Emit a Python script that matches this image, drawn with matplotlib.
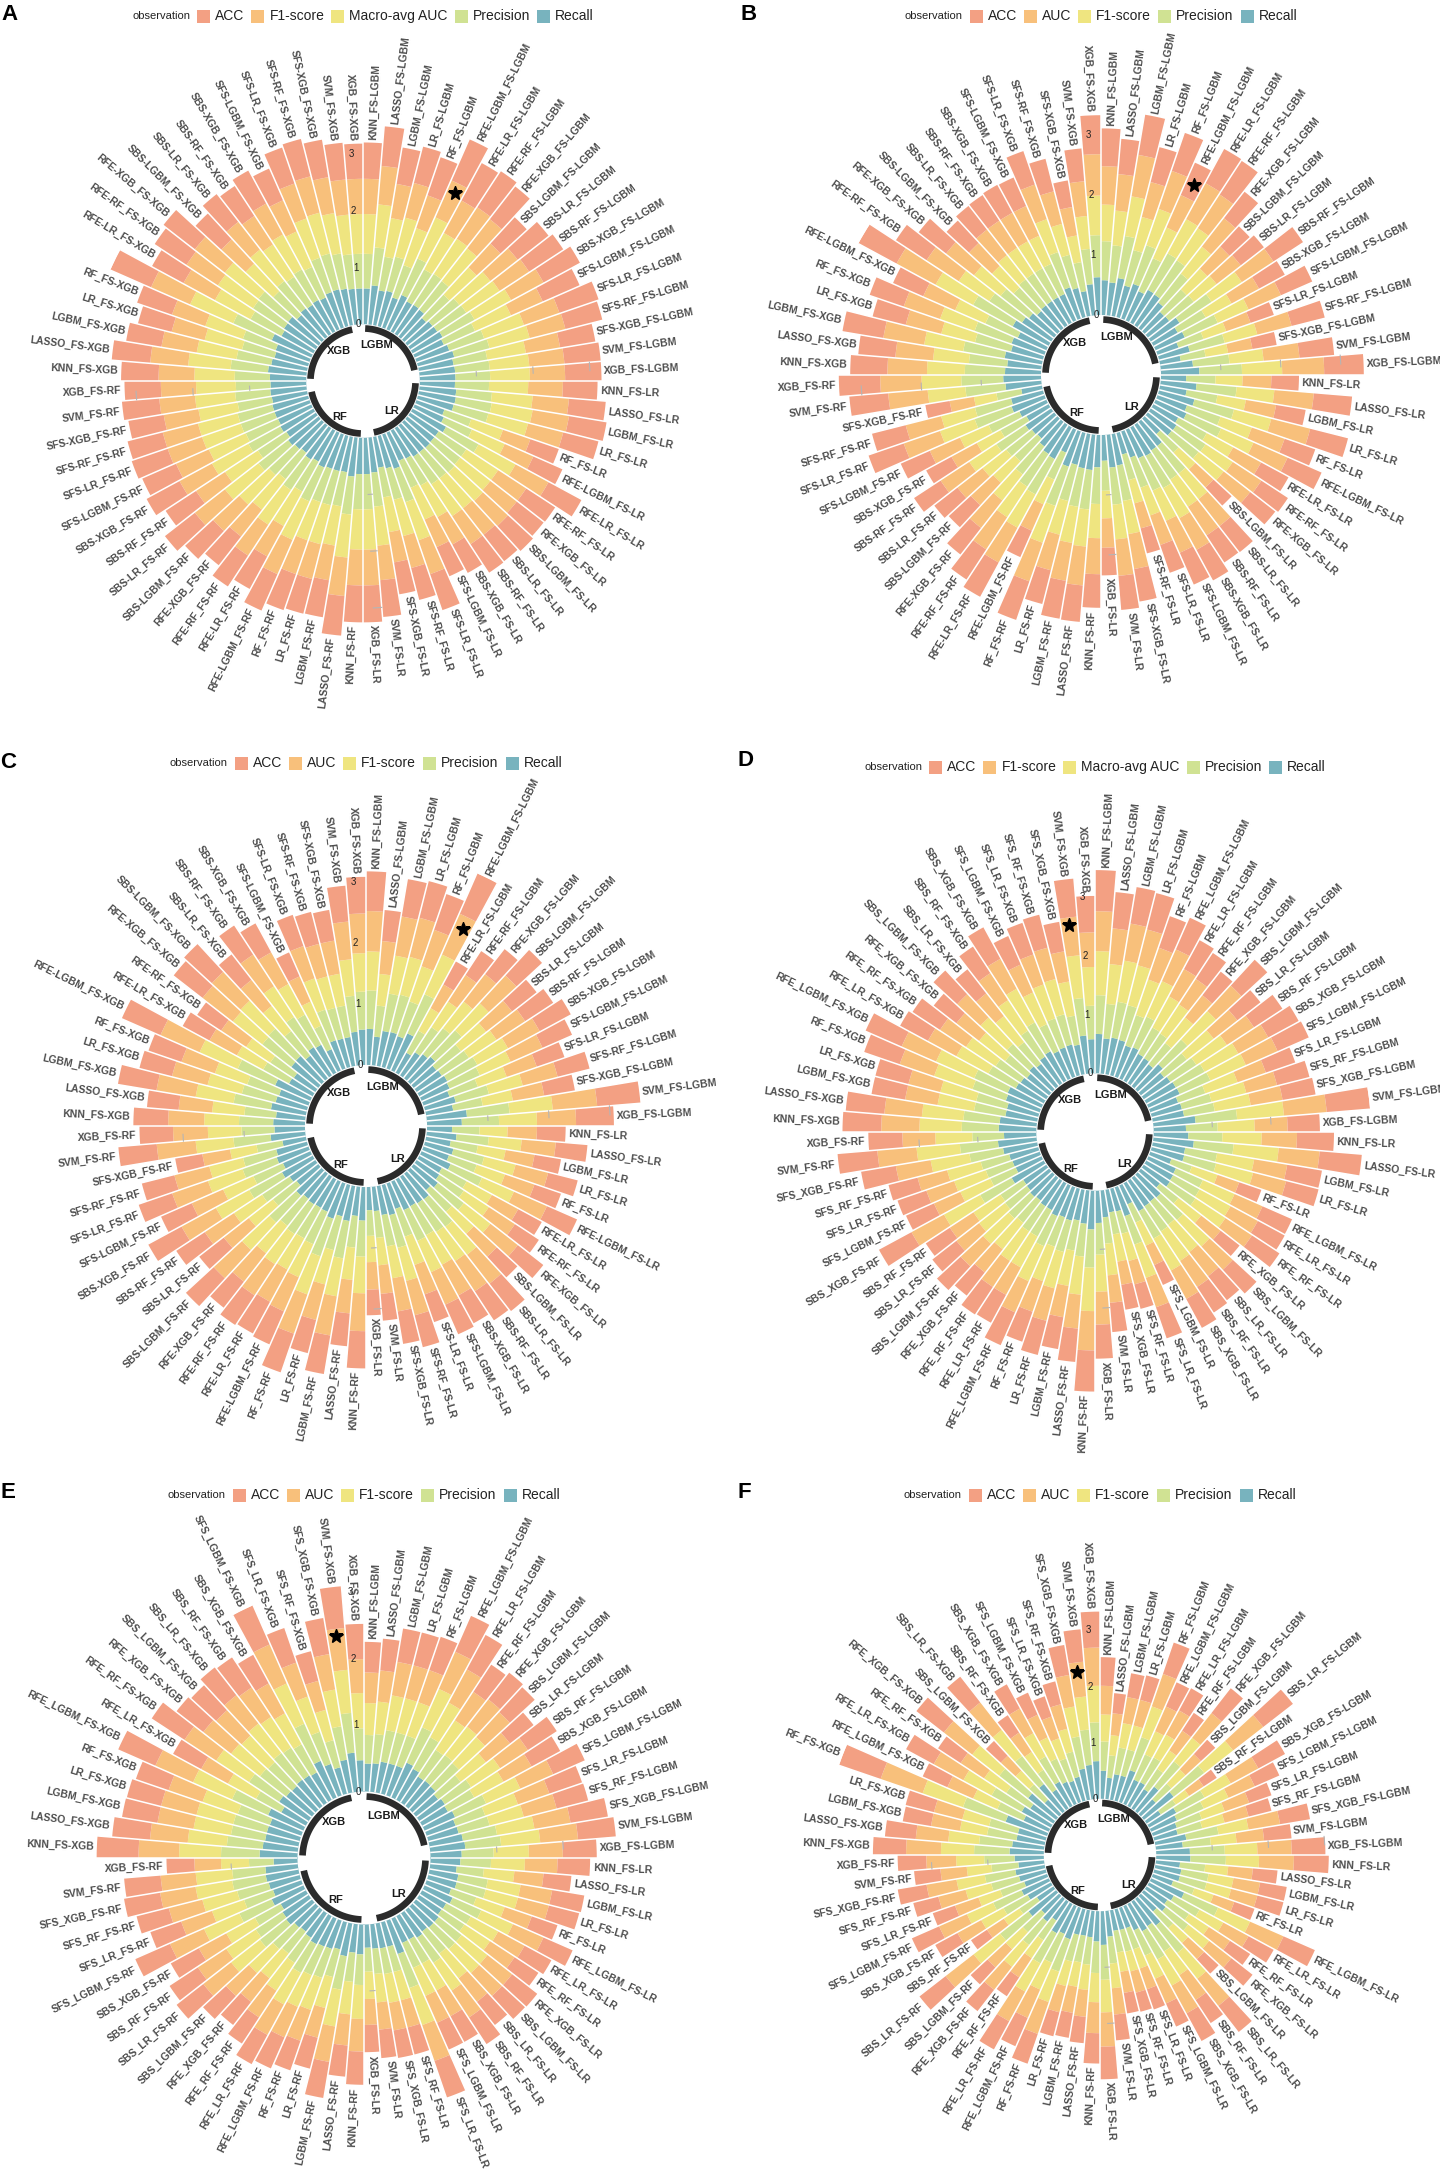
import numpy as np
import matplotlib
matplotlib.use('Agg')
import matplotlib.pyplot as plt
from matplotlib.patches import Rectangle

plt.rcParams['font.family'] = ['Liberation Sans', 'DejaVu Sans']

W_PX, H_PX = 1440, 2178

groups = ['LGBM', 'LR', 'RF', 'XGB']
methods = ['KNN', 'LASSO', 'LGBM', 'LR', 'RF', 'RFE-LGBM', 'RFE-LR', 'RFE-RF', 'RFE-XGB',
           'SBS-LGBM', 'SBS-LR', 'SBS-RF', 'SBS-XGB', 'SFS-LGBM', 'SFS-LR', 'SFS-RF',
           'SFS-XGB', 'SVM', 'XGB']

colors = ['#F3A083', '#F8C07B', '#EFE580', '#D0E293', '#78B3BE']
names_macro = ['ACC', 'F1-score', 'Macro-avg AUC', 'Precision', 'Recall']
names_auc = ['ACC', 'AUC', 'F1-score', 'Precision', 'Recall']

# ---- panel A ----
a_acc = [.64,.70,.65,.66,.71,.79,.75,.76,.73,.63,.69,.72,.73,.71,.73,.67,.63,.64,.64,
         .61,.65,.67,.64,.53,.56,.66,.61,.60,.60,.59,.60,.57,.56,.67,.58,.57,.65,.65,
         .65,.70,.66,.63,.67,.70,.65,.65,.64,.67,.67,.64,.66,.65,.67,.64,.63,.66,.64,
         .66,.68,.63,.61,.65,.78,.63,.67,.70,.62,.62,.63,.66,.61,.67,.68,.67,.65,.62]
a_f1 = [.62,.68,.61,.63,.61,.71,.65,.66,.65,.57,.61,.62,.65,.61,.66,.65,.61,.62,.62,
        .61,.64,.65,.64,.51,.55,.66,.59,.59,.60,.59,.59,.55,.53,.63,.58,.54,.61,.63,
        .63,.68,.62,.63,.63,.66,.61,.65,.60,.63,.67,.61,.65,.63,.64,.64,.62,.63,.62,
        .63,.67,.63,.60,.62,.75,.63,.66,.67,.58,.62,.60,.62,.60,.65,.66,.64,.62,.62]
a_auc = [.70,.76,.69,.71,.69,.79,.73,.74,.73,.65,.69,.70,.73,.69,.74,.73,.69,.70,.70,
         .69,.72,.73,.72,.59,.63,.74,.67,.67,.68,.67,.67,.63,.61,.71,.66,.62,.69,.71,
         .71,.76,.70,.71,.71,.74,.69,.73,.68,.71,.75,.69,.73,.71,.72,.72,.70,.71,.70,
         .71,.75,.71,.68,.70,.83,.71,.74,.75,.66,.70,.68,.70,.68,.73,.74,.72,.70,.70]
a_prec = [.61,.67,.60,.62,.60,.70,.64,.65,.64,.56,.60,.61,.64,.60,.65,.64,.60,.61,.61,
          .60,.63,.64,.63,.50,.54,.65,.58,.58,.59,.58,.58,.54,.52,.62,.57,.53,.60,.62,
          .62,.67,.61,.62,.62,.65,.60,.64,.59,.62,.66,.60,.64,.62,.63,.63,.61,.62,.61,
          .62,.66,.62,.59,.61,.74,.62,.65,.66,.57,.61,.59,.61,.59,.64,.65,.63,.61,.61]
a_recall = [.63,.69,.62,.64,.56,.66,.60,.61,.60,.52,.56,.57,.60,.56,.61,.66,.62,.63,.63,
            .62,.65,.66,.65,.52,.56,.67,.60,.60,.61,.60,.60,.56,.54,.64,.59,.55,.62,.64,
            .64,.69,.63,.64,.64,.67,.62,.66,.61,.64,.68,.62,.66,.64,.65,.65,.63,.64,.63,
            .64,.68,.64,.61,.63,.76,.64,.67,.68,.59,.63,.61,.63,.61,.66,.67,.65,.63,.63]

# ---- panel B ----
b_acc = [.63,.59,.68,.60,.67,.59,.65,.67,.56,.46,.49,.59,.49,.57,.41,.57,.41,.58,.66,
         .46,.64,.50,.65,.54,.62,.52,.53,.53,.41,.55,.54,.58,.58,.49,.43,.55,.57,.46,
         .56,.61,.64,.58,.68,.48,.65,.60,.56,.50,.49,.53,.48,.53,.62,.58,.41,.65,.69,
         .62,.62,.69,.57,.60,.55,.72,.61,.58,.51,.50,.51,.53,.52,.59,.56,.45,.55,.65]
b_auc = [.64,.61,.70,.60,.67,.59,.68,.67,.60,.50,.51,.63,.52,.59,.43,.59,.41,.60,.70,
         .48,.66,.51,.67,.58,.62,.53,.57,.56,.41,.57,.57,.60,.58,.52,.43,.59,.61,.49,
         .60,.65,.64,.61,.68,.48,.66,.64,.58,.51,.53,.57,.48,.55,.64,.61,.41,.66,.69,
         .66,.63,.69,.61,.64,.58,.74,.64,.59,.52,.54,.54,.54,.54,.61,.56,.48,.58,.69]
b_f1 = [.61,.58,.67,.57,.64,.56,.65,.64,.57,.47,.48,.60,.49,.56,.40,.56,.38,.57,.67,
        .45,.63,.48,.64,.55,.59,.50,.54,.53,.38,.54,.54,.57,.55,.49,.40,.56,.58,.46,
        .57,.62,.61,.58,.65,.45,.63,.61,.55,.48,.50,.54,.45,.52,.61,.58,.38,.63,.66,
        .63,.60,.66,.58,.61,.55,.71,.61,.56,.49,.51,.51,.51,.51,.58,.53,.45,.55,.66]
b_prec = [.65,.62,.71,.61,.68,.60,.69,.68,.61,.51,.52,.64,.53,.60,.44,.60,.42,.61,.71,
          .49,.67,.52,.68,.59,.63,.54,.58,.57,.42,.58,.58,.61,.59,.53,.44,.60,.62,.50,
          .61,.66,.65,.62,.69,.49,.67,.65,.59,.52,.54,.58,.49,.56,.65,.62,.42,.67,.70,
          .67,.64,.70,.62,.65,.59,.75,.65,.60,.53,.55,.55,.55,.55,.62,.57,.49,.59,.70]
b_recall = [.58,.55,.64,.54,.61,.53,.62,.61,.54,.44,.45,.57,.46,.53,.37,.53,.35,.54,.64,
            .42,.60,.45,.61,.52,.56,.47,.51,.50,.35,.51,.51,.54,.52,.46,.37,.53,.55,.43,
            .54,.59,.58,.55,.62,.42,.60,.58,.52,.45,.47,.51,.42,.49,.58,.55,.35,.60,.63,
            .60,.57,.63,.55,.58,.52,.68,.58,.53,.46,.48,.48,.48,.48,.55,.50,.42,.52,.63]

# ---- panel C ----
c_acc = [.65,.51,.62,.62,.62,.72,.43,.47,.52,.57,.51,.55,.58,.53,.48,.54,.51,.71,.62,
         .47,.52,.44,.50,.46,.54,.44,.47,.53,.46,.57,.57,.52,.53,.48,.54,.54,.44,.42,
         .61,.54,.64,.56,.67,.59,.59,.58,.54,.62,.51,.56,.62,.55,.58,.55,.45,.63,.55,
         .57,.52,.64,.55,.57,.69,.50,.47,.60,.62,.53,.57,.54,.43,.54,.54,.51,.59,.60]
c_auc = [.66,.54,.65,.66,.63,.73,.44,.52,.57,.62,.54,.56,.59,.57,.52,.59,.52,.73,.64,
         .48,.56,.48,.55,.51,.59,.49,.51,.57,.51,.60,.59,.57,.58,.51,.58,.55,.47,.45,
         .62,.55,.65,.60,.68,.61,.60,.61,.59,.63,.52,.57,.64,.56,.62,.59,.46,.64,.57,
         .59,.55,.65,.60,.58,.70,.51,.49,.63,.64,.54,.62,.59,.45,.56,.55,.55,.62,.65]
c_f1 = [.64,.52,.63,.64,.61,.71,.42,.50,.55,.60,.52,.54,.57,.55,.50,.57,.50,.71,.62,
        .46,.54,.46,.53,.49,.57,.47,.49,.55,.49,.58,.57,.55,.56,.49,.56,.53,.45,.43,
        .60,.53,.63,.58,.66,.59,.58,.59,.57,.61,.50,.55,.62,.54,.60,.57,.44,.62,.55,
        .57,.53,.63,.58,.56,.68,.49,.47,.61,.62,.52,.60,.57,.43,.54,.53,.53,.60,.63]
c_prec = [.63,.51,.62,.63,.60,.70,.41,.49,.54,.59,.51,.53,.56,.54,.49,.56,.49,.70,.61,
          .45,.53,.45,.52,.48,.56,.46,.48,.54,.48,.57,.56,.54,.55,.48,.55,.52,.44,.42,
          .59,.52,.62,.57,.65,.58,.57,.58,.56,.60,.49,.54,.61,.53,.59,.56,.43,.61,.54,
          .56,.52,.62,.57,.55,.67,.48,.46,.60,.61,.51,.59,.56,.42,.53,.52,.52,.59,.62]
c_recall = [.59,.47,.58,.59,.56,.66,.37,.45,.50,.55,.47,.49,.52,.50,.45,.52,.45,.66,.57,
            .41,.49,.41,.48,.44,.52,.42,.44,.50,.44,.53,.52,.50,.51,.44,.51,.48,.40,.38,
            .55,.48,.58,.53,.61,.54,.53,.54,.52,.56,.45,.50,.57,.49,.55,.52,.39,.57,.50,
            .52,.48,.58,.53,.51,.63,.44,.42,.56,.57,.47,.55,.52,.38,.49,.48,.48,.55,.58]

# ---- panel D ----
d_acc = [.70,.62,.63,.64,.57,.59,.56,.53,.51,.60,.50,.58,.59,.58,.53,.57,.57,.74,.55,
         .63,.72,.60,.57,.40,.55,.52,.56,.41,.55,.52,.52,.56,.37,.56,.43,.43,.50,.58,
         .70,.57,.55,.60,.54,.61,.54,.56,.50,.55,.52,.49,.63,.52,.52,.51,.60,.68,.58,
         .66,.66,.58,.58,.64,.67,.54,.56,.49,.55,.52,.54,.61,.53,.57,.58,.51,.65,.62]
d_f1 = [.68,.61,.64,.63,.57,.59,.53,.52,.48,.59,.51,.55,.58,.59,.51,.54,.55,.73,.56,
        .60,.70,.57,.58,.39,.52,.53,.54,.42,.54,.52,.53,.55,.36,.53,.41,.40,.47,.56,
        .67,.58,.54,.57,.55,.58,.53,.53,.50,.52,.49,.48,.63,.49,.50,.52,.60,.67,.56,
        .65,.64,.56,.56,.62,.64,.55,.53,.49,.54,.49,.55,.58,.52,.54,.55,.52,.66,.59]
d_auc = [.75,.68,.71,.70,.64,.66,.60,.59,.55,.66,.58,.62,.65,.66,.58,.61,.62,.80,.63,
         .67,.77,.64,.65,.46,.59,.60,.61,.49,.61,.59,.60,.62,.43,.60,.48,.47,.54,.63,
         .74,.65,.61,.64,.62,.65,.60,.60,.57,.59,.56,.55,.70,.56,.57,.59,.67,.74,.63,
         .72,.71,.63,.63,.69,.71,.62,.60,.56,.61,.56,.62,.65,.59,.61,.62,.59,.73,.66]
d_prec = [.66,.59,.62,.61,.55,.57,.51,.50,.46,.57,.49,.53,.56,.57,.49,.52,.53,.71,.54,
          .58,.68,.55,.56,.37,.50,.51,.52,.40,.52,.50,.51,.53,.34,.51,.39,.38,.45,.54,
          .65,.56,.52,.55,.53,.56,.51,.51,.48,.50,.47,.46,.61,.47,.48,.50,.58,.65,.54,
          .63,.62,.54,.54,.60,.62,.53,.51,.47,.52,.47,.53,.56,.50,.52,.53,.50,.64,.57]
d_recall = [.67,.60,.63,.62,.56,.58,.52,.51,.47,.58,.50,.54,.57,.58,.50,.53,.54,.72,.55,
            .59,.69,.56,.57,.38,.51,.52,.53,.41,.53,.51,.52,.54,.35,.52,.40,.39,.46,.55,
            .66,.57,.53,.56,.54,.57,.52,.52,.49,.51,.48,.47,.62,.48,.49,.51,.59,.66,.55,
            .64,.63,.55,.55,.61,.63,.54,.52,.48,.53,.48,.54,.57,.51,.53,.54,.51,.65,.58]

# ---- panel E ----
e_acc = [.46,.48,.51,.51,.53,.59,.59,.49,.51,.51,.45,.52,.49,.52,.52,.49,.57,.57,.51,
         .49,.42,.49,.47,.41,.48,.46,.43,.48,.47,.44,.48,.44,.44,.58,.42,.42,.43,.41,
         .50,.47,.55,.48,.47,.51,.50,.47,.44,.47,.51,.51,.48,.57,.49,.50,.55,.55,.42,
         .63,.57,.54,.53,.52,.61,.48,.59,.51,.51,.53,.54,.49,.64,.55,.46,.55,.63,.53]
e_auc = [.46,.47,.51,.51,.51,.61,.57,.51,.52,.51,.46,.50,.48,.54,.50,.51,.55,.57,.51,
         .49,.44,.48,.48,.43,.50,.45,.44,.47,.47,.45,.48,.44,.44,.57,.42,.42,.41,.39,
         .49,.47,.54,.46,.49,.50,.52,.48,.45,.47,.53,.51,.47,.56,.49,.52,.54,.53,.40,
         .61,.57,.55,.55,.54,.62,.46,.57,.53,.52,.54,.53,.51,.64,.54,.45,.54,.63,.51]
e_f1 = [.48,.49,.53,.53,.53,.63,.59,.53,.54,.53,.48,.52,.50,.56,.52,.53,.57,.59,.53,
        .51,.46,.50,.50,.45,.52,.47,.46,.49,.49,.47,.50,.46,.46,.59,.44,.44,.43,.41,
        .51,.49,.56,.48,.51,.52,.54,.50,.47,.49,.55,.53,.49,.58,.51,.54,.56,.55,.42,
        .63,.59,.57,.57,.56,.64,.48,.59,.55,.54,.56,.55,.53,.66,.56,.47,.56,.65,.53]
e_prec = [.43,.44,.48,.48,.48,.58,.54,.48,.49,.48,.43,.47,.45,.51,.47,.48,.52,.54,.48,
          .46,.41,.45,.45,.40,.47,.42,.41,.44,.44,.42,.45,.41,.41,.54,.39,.39,.38,.36,
          .46,.44,.51,.43,.46,.47,.49,.45,.42,.44,.50,.48,.44,.53,.46,.49,.51,.50,.37,
          .58,.54,.52,.52,.51,.59,.43,.54,.50,.49,.51,.50,.48,.61,.51,.42,.51,.60,.48]
e_recall = [.42,.43,.47,.47,.47,.57,.53,.47,.48,.47,.42,.46,.44,.50,.46,.47,.51,.53,.47,
            .45,.40,.44,.44,.39,.46,.41,.40,.43,.43,.41,.44,.40,.40,.53,.38,.38,.37,.35,
            .45,.43,.50,.42,.45,.46,.48,.44,.41,.43,.49,.47,.43,.52,.45,.48,.50,.49,.36,
            .57,.53,.51,.51,.50,.58,.42,.53,.49,.48,.50,.49,.47,.60,.50,.41,.50,.59,.47]

# ---- panel F ----
f_acc = [.51,.36,.43,.45,.59,.47,.45,.38,.56,.35,.67,.28,.54,.48,.42,.42,.54,.49,.60,
         .62,.44,.48,.48,.38,.61,.51,.43,.48,.35,.59,.49,.56,.45,.38,.35,.37,.46,.58,
         .54,.47,.45,.44,.56,.55,.57,.40,.48,.41,.59,.34,.45,.53,.42,.46,.52,.47,.51,
         .59,.55,.51,.52,.78,.48,.56,.48,.62,.36,.58,.37,.49,.43,.38,.42,.54,.58,.64]
f_auc = [.51,.39,.47,.47,.61,.48,.49,.42,.56,.37,.68,.31,.56,.51,.46,.44,.57,.49,.61,
         .62,.44,.48,.48,.39,.65,.51,.45,.50,.39,.61,.53,.56,.48,.39,.39,.38,.47,.61,
         .55,.48,.47,.48,.60,.55,.60,.41,.52,.44,.63,.36,.48,.54,.44,.50,.54,.47,.53,
         .62,.58,.52,.52,.79,.50,.60,.50,.64,.36,.62,.41,.50,.44,.41,.45,.57,.62,.68]
f_f1 = [.48,.36,.44,.44,.58,.45,.46,.39,.53,.34,.65,.28,.53,.48,.43,.41,.54,.46,.58,
        .59,.41,.45,.45,.36,.62,.48,.42,.47,.36,.58,.50,.53,.45,.36,.36,.35,.44,.58,
        .52,.45,.44,.45,.57,.52,.57,.38,.49,.41,.60,.33,.45,.51,.41,.47,.51,.44,.50,
        .59,.55,.49,.49,.76,.47,.57,.47,.61,.33,.59,.38,.47,.41,.38,.42,.54,.59,.65]
f_prec = [.52,.40,.48,.48,.62,.49,.50,.43,.57,.38,.69,.32,.57,.52,.47,.45,.58,.50,.62,
          .63,.45,.49,.49,.40,.66,.52,.46,.51,.40,.62,.54,.57,.49,.40,.40,.39,.48,.62,
          .56,.49,.48,.49,.61,.56,.61,.42,.53,.45,.64,.37,.49,.55,.45,.51,.55,.48,.54,
          .63,.59,.53,.53,.80,.51,.61,.51,.65,.37,.63,.42,.51,.45,.42,.46,.58,.63,.69]
f_recall = [.50,.38,.46,.46,.60,.47,.48,.41,.55,.36,.67,.30,.55,.50,.45,.43,.56,.48,.60,
            .61,.43,.47,.47,.38,.64,.50,.44,.49,.38,.60,.52,.55,.47,.38,.38,.37,.46,.60,
            .54,.47,.46,.47,.59,.54,.59,.40,.51,.43,.62,.35,.47,.53,.43,.49,.53,.46,.52,
            .61,.57,.51,.51,.78,.49,.59,.49,.63,.35,.61,.40,.49,.43,.40,.44,.56,.61,.67]

panels = [
    dict(letter='A', names=names_macro, values=[a_acc, a_f1, a_auc, a_prec, a_recall], sep='-',
         center=(363, 381), legend_y=16, letter_xy=(1, 15), star=(5, 2.68), hidden=[62]),
    dict(letter='B', names=names_auc, values=[b_acc, b_auc, b_f1, b_prec, b_recall], sep='-',
         center=(1101, 375), legend_y=16, letter_xy=(741, 15), star=(5, 2.52), hidden=[63]),
    dict(letter='C', names=names_auc, values=[c_acc, c_auc, c_f1, c_prec, c_recall], sep='-',
         center=(366, 1126), legend_y=763, letter_xy=(0, 762), star=(5, 2.60), hidden=[]),
    dict(letter='D', names=names_macro, values=[d_acc, d_f1, d_auc, d_prec, d_recall], sep='_',
         center=(1095, 1132), legend_y=767, letter_xy=(738, 760), star=(74, 2.55), hidden=[]),
    dict(letter='E', names=names_auc, values=[e_acc, e_auc, e_f1, e_prec, e_recall], sep='_',
         center=(364, 1858), legend_y=1495, letter_xy=(0, 1493), star=(74, 2.36), hidden=[]),
    dict(letter='F', names=names_auc, values=[f_acc, f_auc, f_f1, f_prec, f_recall], sep='_',
         center=(1100, 1855), legend_y=1495, letter_xy=(738, 1492), star=(74, 2.28), hidden=[]),
]

fig = plt.figure(figsize=(W_PX / 100, H_PX / 100), dpi=100, facecolor='white')
renderer = fig.canvas.get_renderer()


def px(x, y):
    return x / W_PX, 1 - y / H_PX


def text_width(s, **kw):
    t = fig.text(0, 0, s, **kw)
    w = t.get_window_extent(renderer=renderer).width
    t.remove()
    return w


def draw_legend(names, cx, cy):
    box = 13
    obs_w = text_width('observation', fontsize=8)
    widths = [text_width(n, fontsize=10) for n in names]
    total_w = obs_w + 7 + sum(box + 5 + w for w in widths) + 7 * (len(names) - 1)
    x = cx - total_w / 2
    fig.text(*px(x, cy), 'observation', fontsize=8, va='center', ha='left', color='#222222')
    x += obs_w + 7
    for name, c, w in zip(names, colors, widths):
        fig.add_artist(Rectangle(px(x, cy + box / 2), box / W_PX, box / H_PX,
                                 transform=fig.transFigure, facecolor=c, edgecolor='none'))
        x += box + 5
        fig.text(*px(x, cy), name, fontsize=10, va='center', ha='left', color='#222222')
        x += w + 7


def draw_panel(p):
    cx, cy = p['center']
    R = 276
    ax = fig.add_axes([(cx - R) / W_PX, 1 - (cy + R) / H_PX, 2 * R / W_PX, 2 * R / H_PX],
                      projection='polar')
    ax.set_theta_zero_location('N')
    ax.set_theta_direction(-1)
    vals = [np.array(v) for v in p['values']]
    total = sum(vals)
    n = len(total)
    slot = 2 * np.pi / n
    theta = (np.arange(n) + 0.5) * slot
    ax.set_ylim(-1, total.max())
    ax.set_axis_off()

    # stacked bars, Recall innermost ... ACC outermost
    bottom = np.zeros(n)
    for k in range(4, -1, -1):
        ax.bar(theta, vals[k], width=slot, bottom=bottom, color=colors[k],
               linewidth=0, align='center')
        bottom = bottom + vals[k]

    # thin white gaps between bars
    for i in range(n):
        top = max(total[i - 1], total[i]) + 0.02
        ax.plot([i * slot, i * slot], [0, top], color='white', lw=1.1, solid_capstyle='butt')

    # faint grid marks at group ends
    for g in range(3):
        i = g * 19 + 18
        tt = np.linspace(theta[i] - 0.5 * slot, theta[i] - 0.05 * slot, 10)
        for v in (1, 2, 3):
            if v < total[i]:
                ax.plot(tt, np.full_like(tt, v), color='#b5b5b5', lw=0.8)

    # inner group arcs + names
    has = ['right', 'right', 'left', 'left']
    for g in range(4):
        t0, t1 = theta[g * 19], theta[g * 19 + 16]
        tt = np.linspace(t0, t1, 80)
        ax.plot(tt, np.full_like(tt, -0.075), color='#2b2b2b', lw=4.8, solid_capstyle='butt')
        ax.text((t0 + t1) / 2, -0.17, groups[g], ha=has[g], va='center',
                fontsize=8, fontweight='bold', color='#1a1a1a')

    # radial tick labels
    for v in range(4):
        ax.text(theta[-1], v, str(v), ha='right', va='center', fontsize=7, color='#222222')

    # bar labels
    labels = [m.replace('-', p['sep']) + '_FS-' + g for g in groups for m in methods]
    for i in range(n):
        if i in p['hidden']:
            continue
        deg = np.degrees(theta[i])
        if deg < 180:
            rot, ha = 90 - deg, 'left'
        else:
            rot, ha = 270 - deg, 'right'
        ax.text(theta[i], total[i] + 0.05, labels[i], rotation=rot, rotation_mode='anchor',
                ha=ha, va='center', fontsize=7.5, fontweight='bold', color='#4d4d4d')

    si, sr = p['star']
    ax.plot(theta[si], sr, marker='*', color='black', ms=10, zorder=6)

    draw_legend(p['names'], cx, p['legend_y'])
    fig.text(*px(*p['letter_xy']), p['letter'], fontsize=16, fontweight='bold',
             va='center', ha='left')


for p in panels:
    draw_panel(p)

fig.savefig('out.png', dpi=100, facecolor='white')
